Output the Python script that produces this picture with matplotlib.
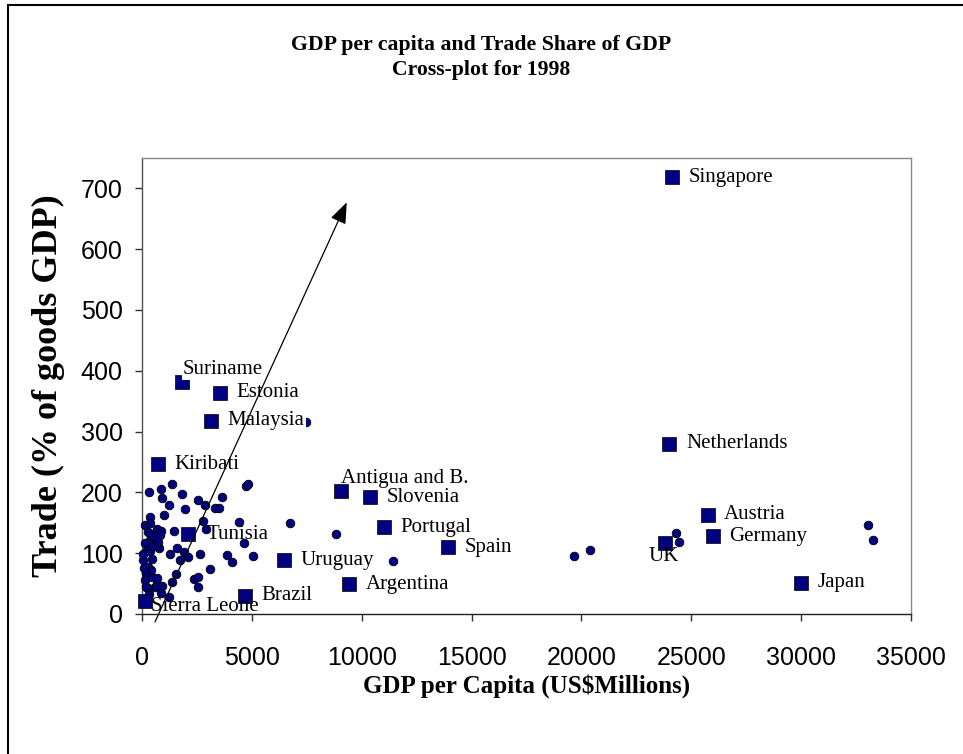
import matplotlib
matplotlib.use("Agg")
import matplotlib.pyplot as plt
from matplotlib.lines import Line2D

# unlabelled countries (circles)
other_gdp = [318, 850, 1377, 1804, 909, 1241, 1940, 2530, 2864, 3303, 3515, 3652,
             4712, 4833, 364, 985, 136, 470, 667, 864, 364, 591, 818, 121, 212,
             364, 758, 1439, 2758, 2909, 4409, 1288, 1576, 1909, 1727, 2106, 2621,
             3848, 4076, 4652, 5030, 3091, 61, 288, 182, 136, 439, 667, 894, 591,
             288, 1348, 1545, 2379, 2561, 2561, 1241, 61, 500, 700, 250, 450, 180,
             700, 300, 850, 420, 100, 364, 515, 743,
             6727, 8833, 7485, 11409, 19682, 20379, 24286, 24420, 33061, 33273]
other_trade = [200, 205, 213, 198, 190, 179, 172, 188, 179, 174, 174, 192,
               211, 214, 159, 163, 146, 132, 140, 137, 121, 121, 130, 116, 105,
               103, 109, 137, 153, 139, 151, 98, 109, 102, 88, 94, 98,
               97, 85, 116, 96, 74, 88, 78, 67, 56, 61, 50, 46, 45,
               42, 52, 65, 57, 61, 45, 28, 99, 128, 115, 135, 90, 45,
               60, 33, 35, 72, 75, 149, 112, 118,
               149, 131, 315, 87, 95, 105, 133, 119, 147, 121]

# labelled countries (squares)
countries = ["Singapore", "Suriname", "Estonia", "Malaysia", "Netherlands", "Kiribati",
             "Antigua and B.", "Slovenia", "Austria", "Portugal", "Tunisia", "Germany",
             "UK", "Spain", "Uruguay", "Japan", "Argentina", "Brazil", "Sierra Leone"]
country_gdp = [24136, 1803, 3545, 3136, 24000, 714, 9076, 10364, 25742, 11000, 2106,
               25970, 23788, 13909, 6470, 30014, 9409, 4682, 136]
country_trade = [718, 381, 364, 318, 280, 246, 203, 192, 163, 143, 131, 128, 117,
                 110, 88, 51, 49, 30, 21]

# label placement (offset in points, horizontal alignment)
label_pos = {"Suriname": ((1, 9), "left"), "Antigua and B.": ((0, 9), "left"),
             "Sierra Leone": ((4, -4), "left"), "UK": ((-1, -10), "center"),
             "Tunisia": ((13, 0), "left")}
# labels drawn with an opaque background (they hide the mark under them)
opaque = {"Suriname": 5, "Malaysia": 3.5}

navy = "#000080"
serif = "Liberation Serif"

fig = plt.figure(figsize=(9.63, 7.54), dpi=100)
ax = fig.add_axes([0.1475, 0.1857, 0.7985, 0.6048])

ax.plot(other_gdp, other_trade, "o", color=navy, mec="black", mew=0.6, ms=6.2,
        zorder=3, clip_on=False)
ax.plot(country_gdp, country_trade, "s", color=navy, mec="black", mew=0.5, ms=9.5,
        zorder=4, clip_on=False)

for name, gx, ty in zip(countries, country_gdp, country_trade):
    off, ha = label_pos.get(name, ((12, 0), "left"))
    kw = {}
    if name in opaque:
        kw["bbox"] = dict(boxstyle="square,pad=0.05", fc="white", ec="none")
    ax.annotate(name, (gx, ty), xytext=off, textcoords="offset points",
                ha=ha, va="center", fontsize=15, family=serif,
                zorder=opaque.get(name, 4.5), **kw)

# trend arrow
ax.annotate("", xy=(9318, 677), xytext=(591, -13),
            arrowprops=dict(arrowstyle="-|>,head_length=1.3,head_width=0.5",
                            color="black", lw=0.9, shrinkA=0, shrinkB=0),
            annotation_clip=False, zorder=6)

ax.set_xlim(0, 35000)
ax.set_ylim(0, 750)
ax.set_xticks(range(0, 35001, 5000))
ax.set_yticks(range(0, 701, 100))
ax.tick_params(labelsize=18, length=5, width=1, direction="out", color="#303030")
for lab in ax.get_xticklabels() + ax.get_yticklabels():
    lab.set_family("Liberation Sans")
ax.tick_params(axis="x", pad=18)
ax.tick_params(axis="y", pad=9)
for side in ["top", "right"]:
    ax.spines[side].set_color("#8a8a8a")
ax.spines["left"].set_color("#505050")
ax.spines["bottom"].set_color("#202020")
for sp in ax.spines.values():
    sp.set_linewidth(1)

ax.set_xlabel("GDP per Capita (US$Millions)", fontsize=18, fontweight="bold",
              family=serif, labelpad=3)
ax.set_ylabel("Trade (% of goods GDP)", fontsize=26, fontweight="bold",
              family=serif, labelpad=11)

fig.text(0.5, 0.940, "GDP per capita and Trade Share of GDP", ha="center", va="center",
         fontsize=15.7, fontweight="bold", family=serif)
fig.text(0.5, 0.907, "Cross-plot for 1998", ha="center", va="center",
         fontsize=15.7, fontweight="bold", family=serif)

# outer frame (top and left edges)
fig.add_artist(Line2D([8 / 963, 1], [1 - 5 / 754, 1 - 5 / 754], color="black", lw=1.5))
fig.add_artist(Line2D([8 / 963, 8 / 963], [0, 1 - 5 / 754], color="black", lw=1.5))

fig.savefig("out.png", dpi=100)
